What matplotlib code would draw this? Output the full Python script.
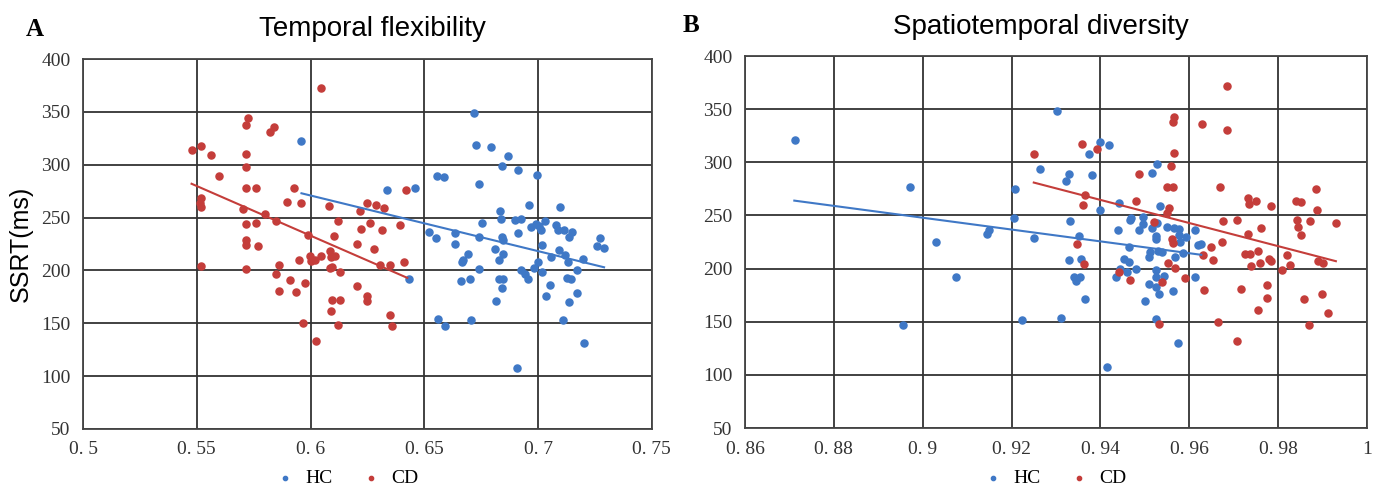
import matplotlib
matplotlib.use("Agg")
import matplotlib.pyplot as plt

BLUE = "#3f78c6"
RED = "#c43d3a"
GRID = "#333333"

# Panel A - temporal flexibility
a_hc = [(0.596, 322), (0.6338, 276), (0.646, 278), (0.6432, 192), (0.672, 349), (0.6728, 319),
        (0.6793, 317), (0.6868, 308), (0.684, 299), (0.691, 295), (0.6993, 290), (0.6554, 289),
        (0.6587, 288), (0.6739, 282), (0.6958, 262), (0.7097, 260), (0.6833, 256), (0.6753, 245),
        (0.6837, 249), (0.6898, 248), (0.6923, 249), (0.6911, 235), (0.703, 247), (0.697, 241),
        (0.6989, 244), (0.7004, 242), (0.7014, 238), (0.7079, 243), (0.7088, 238), (0.7114, 238),
        (0.7147, 236), (0.7136, 232), (0.6522, 236), (0.655, 231), (0.6633, 235), (0.6636, 225),
        (0.6742, 232), (0.6842, 232), (0.6845, 229), (0.7017, 224), (0.7273, 231), (0.7258, 223),
        (0.729, 221), (0.6693, 216), (0.6668, 210), (0.6666, 208), (0.6809, 220), (0.6846, 216),
        (0.6828, 210), (0.7057, 213), (0.7094, 219), (0.7119, 215), (0.7132, 208), (0.7198, 211),
        (0.6999, 208), (0.6739, 201), (0.6923, 200), (0.6941, 197), (0.6955, 192), (0.6982, 202),
        (0.7016, 199), (0.7173, 200), (0.6702, 192), (0.6662, 190), (0.6827, 192), (0.6845, 192),
        (0.684, 183), (0.7126, 193), (0.7144, 192), (0.7052, 186), (0.7034, 176), (0.7173, 179),
        (0.7138, 170), (0.6815, 171), (0.6559, 154), (0.659, 147), (0.6703, 153), (0.7111, 153),
        (0.7201, 131), (0.6909, 108)]
a_cd = [(0.5477, 314), (0.5517, 318), (0.5561, 309), (0.5597, 289), (0.552, 269), (0.5513, 264),
        (0.5517, 260), (0.5517, 204), (0.5723, 344), (0.5718, 338), (0.5715, 310), (0.5715, 298),
        (0.5718, 278), (0.5759, 278), (0.5704, 258), (0.5715, 244), (0.5762, 245), (0.5718, 229),
        (0.5718, 224), (0.5771, 223), (0.5718, 201), (0.5821, 331), (0.5839, 336), (0.5799, 253),
        (0.5847, 247), (0.5862, 205), (0.585, 197), (0.5862, 181), (0.5909, 191), (0.5935, 180),
        (0.5897, 265), (0.5928, 278), (0.596, 264), (0.595, 210), (0.5976, 188), (0.5965, 150),
        (0.5987, 234), (0.5997, 214), (0.6001, 209), (0.6019, 210), (0.6026, 133), (0.6045, 373),
        (0.6048, 214), (0.608, 261), (0.6085, 218), (0.6089, 213), (0.6107, 214), (0.6085, 202),
        (0.6095, 203), (0.6102, 233), (0.6121, 247), (0.6129, 199), (0.6092, 172), (0.6129, 172),
        (0.6089, 162), (0.6121, 148), (0.6216, 256), (0.625, 264), (0.6289, 262), (0.6323, 259),
        (0.622, 239), (0.626, 245), (0.6316, 238), (0.6392, 243), (0.6205, 225), (0.6279, 220),
        (0.6304, 205), (0.6351, 205), (0.641, 208), (0.6205, 185), (0.625, 176), (0.6246, 171),
        (0.6348, 158), (0.6357, 147), (0.6419, 276)]
a_hc_trend = [(0.596, 273), (0.729, 203)]
a_cd_trend = [(0.5477, 282), (0.6425, 193)]

# Panel B - spatiotemporal diversity
b_hc = [(0.8713, 321), (0.8972, 277), (0.903, 225), (0.9074, 192), (0.8956, 147), (0.9145, 233),
        (0.9149, 236), (0.9207, 275), (0.9205, 248), (0.925, 229), (0.9223, 152), (0.9263, 294),
        (0.9303, 348), (0.9398, 319), (0.942, 316), (0.9375, 308), (0.9329, 289), (0.9323, 282),
        (0.9381, 288), (0.9527, 298), (0.9515, 290), (0.9534, 259), (0.9441, 262), (0.94, 255),
        (0.9331, 245), (0.9351, 231), (0.9466, 246), (0.9469, 248), (0.9495, 249), (0.9495, 242),
        (0.9487, 236), (0.9439, 236), (0.9515, 238), (0.9528, 243), (0.9526, 231), (0.9526, 228),
        (0.9549, 239), (0.9565, 238), (0.9578, 237), (0.9577, 232), (0.9593, 230), (0.9612, 236),
        (0.9579, 225), (0.962, 222), (0.9627, 223), (0.9465, 220), (0.9511, 216), (0.951, 211),
        (0.953, 217), (0.9539, 216), (0.9585, 215), (0.9567, 211), (0.9453, 209), (0.9465, 206),
        (0.9481, 200), (0.9443, 200), (0.946, 197), (0.9434, 192), (0.9525, 199), (0.9526, 192),
        (0.9543, 193), (0.9612, 192), (0.9329, 208), (0.9356, 209), (0.934, 192), (0.9344, 188),
        (0.9353, 192), (0.9366, 171), (0.951, 186), (0.9526, 183), (0.9531, 176), (0.9564, 179),
        (0.9501, 170), (0.9312, 154), (0.9524, 153), (0.9575, 130), (0.9414, 107)]
b_cd = [(0.9251, 308), (0.9685, 372), (0.9565, 343), (0.9564, 338), (0.9628, 336), (0.9684, 330),
        (0.9358, 317), (0.9393, 313), (0.9565, 309), (0.9558, 297), (0.9487, 289), (0.9549, 277),
        (0.9564, 277), (0.9669, 277), (0.9886, 275), (0.9365, 269), (0.936, 260), (0.948, 264),
        (0.9555, 257), (0.9549, 252), (0.9732, 266), (0.9734, 261), (0.9751, 264), (0.9785, 259),
        (0.984, 264), (0.9852, 263), (0.9888, 255), (0.952, 244), (0.9676, 245), (0.9708, 246),
        (0.9843, 246), (0.9871, 245), (0.993, 243), (0.9762, 238), (0.9844, 239), (0.9732, 233),
        (0.9852, 232), (0.9562, 228), (0.9563, 224), (0.9347, 223), (0.9674, 225), (0.9649, 220),
        (0.963, 213), (0.9654, 208), (0.9726, 214), (0.9737, 214), (0.9755, 217), (0.9759, 205),
        (0.978, 209), (0.9785, 207), (0.9819, 213), (0.9738, 202), (0.9826, 203), (0.9808, 199),
        (0.9889, 207), (0.99, 205), (0.9362, 204), (0.9552, 205), (0.9567, 201), (0.9441, 197),
        (0.9467, 189), (0.959, 191), (0.9538, 187), (0.9633, 180), (0.9717, 181), (0.9774, 185),
        (0.9776, 172), (0.9859, 171), (0.9898, 176), (0.9755, 161), (0.9912, 158), (0.9665, 150),
        (0.9531, 148), (0.987, 147), (0.9707, 132)]
b_hc_trend = [(0.8711, 264), (0.9627, 213)]
b_cd_trend = [(0.925, 281), (0.993, 207)]

a_xticks = [0.5, 0.55, 0.6, 0.65, 0.7, 0.75]
a_xlabels = ["0. 5", "0. 55", "0. 6", "0. 65", "0. 7", "0. 75"]
b_xticks = [0.86, 0.88, 0.9, 0.92, 0.94, 0.96, 0.98, 1.0]
b_xlabels = ["0. 86", "0. 88", "0. 9", "0. 92", "0. 94", "0. 96", "0. 98", "1"]
yticks = [50, 100, 150, 200, 250, 300, 350, 400]

SERIF = ["Liberation Serif", "DejaVu Serif"]
SANS = ["Liberation Sans", "DejaVu Sans"]


def draw(ax, hc, cd, hc_tr, cd_tr, xticks, xlabels):
    ax.set_xlim(xticks[0], xticks[-1])
    ax.set_ylim(50, 400)
    ax.set_xticks(xticks)
    ax.set_xticklabels(xlabels, family=SERIF, fontsize=14, color="#333")
    ax.set_yticks(yticks)
    ax.set_yticklabels([str(v) for v in yticks], family=SERIF, fontsize=14, color="#333")
    ax.grid(True, color=GRID, lw=1.3)
    ax.set_axisbelow(True)
    for s in ax.spines.values():
        s.set_color("#444")
        s.set_linewidth(1.3)
    ax.tick_params(length=0, pad=9)
    ax.scatter([p[0] for p in hc], [p[1] for p in hc], s=26, color=BLUE, zorder=3, label="HC")
    ax.scatter([p[0] for p in cd], [p[1] for p in cd], s=26, color=RED, zorder=3, label="CD")
    ax.plot([p[0] for p in hc_tr], [p[1] for p in hc_tr], color=BLUE, lw=1.5, zorder=4)
    ax.plot([p[0] for p in cd_tr], [p[1] for p in cd_tr], color=RED, lw=1.5, zorder=4)


fig = plt.figure(figsize=(13.84, 4.9), dpi=100)
ax1 = fig.add_axes([0.060, 0.1245, 0.411, 0.755])
ax2 = fig.add_axes([0.5383, 0.1265, 0.4494, 0.759])

draw(ax1, a_hc, a_cd, a_hc_trend, a_cd_trend, a_xticks, a_xlabels)
draw(ax2, b_hc, b_cd, b_hc_trend, b_cd_trend, b_xticks, b_xlabels)

ax1.set_ylabel("SSRT(ms)", family=SANS, fontsize=18, labelpad=6)

fig.text(372 / 1384, 1 - 29 / 490, "Temporal flexibility", family=SANS, fontsize=20,
         ha="center", va="center")
fig.text(1041 / 1384, 1 - 27 / 490, "Spatiotemporal diversity", family=SANS, fontsize=20,
         ha="center", va="center")
fig.text(35 / 1384, 1 - 30 / 490, "A", family=SERIF, fontsize=18, weight="bold",
         ha="center", va="center")
fig.text(691 / 1384, 1 - 26 / 490, "B", family=SERIF, fontsize=18, weight="bold",
         ha="center", va="center")

for ax, cx in [(ax1, 342), (ax2, 1050)]:
    h, l = ax.get_legend_handles_labels()
    fig.legend(h, l, loc="center", bbox_to_anchor=(cx / 1384, 1 - 478 / 490), ncol=2,
               frameon=False, handletextpad=0.05, columnspacing=1.0, markerscale=0.6,
               borderpad=0.1, prop={"family": SERIF, "size": 14})

fig.savefig("out.png", dpi=100)
